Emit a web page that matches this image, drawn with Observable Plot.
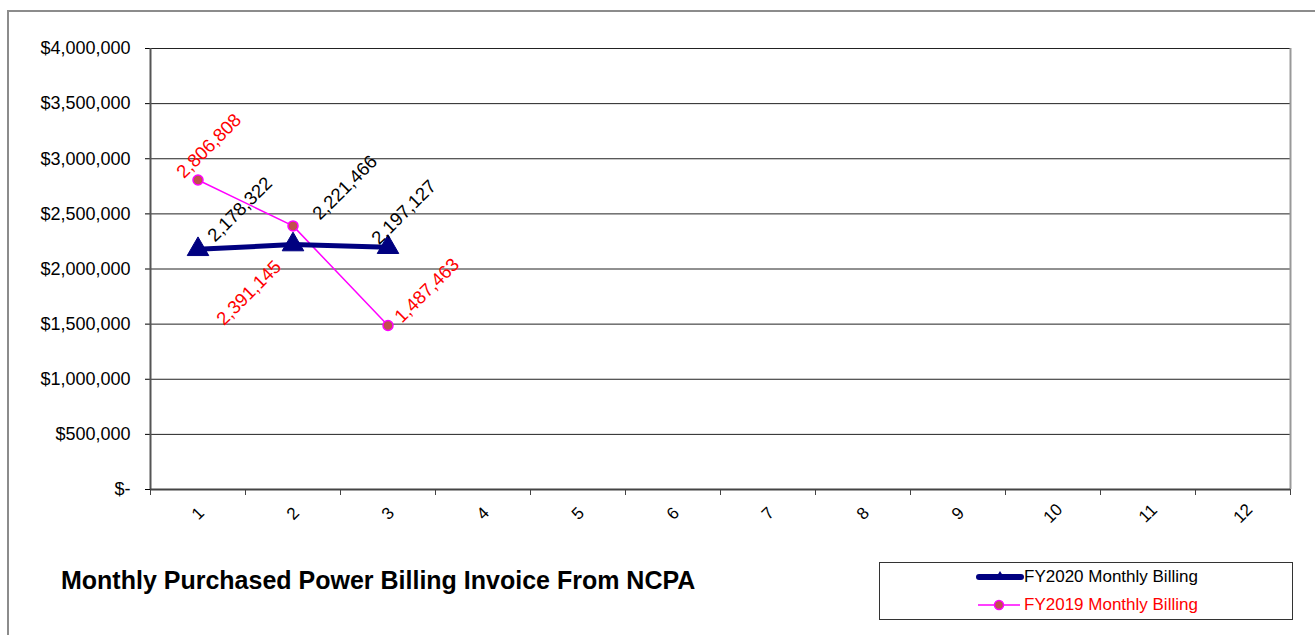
<!DOCTYPE html>
<html>
<head>
<meta charset="utf-8">
<script src="https://cdn.jsdelivr.net/npm/d3@7"></script>
<script src="https://cdn.jsdelivr.net/npm/@observablehq/plot@0.6"></script>
<style>
  html, body { margin: 0; padding: 0; background: #fff; overflow: hidden; }
  body { font-family: "Liberation Sans", Arial, sans-serif; }
  #page { position: relative; width: 1315px; height: 635px; }
  #frame { position: absolute; left: 7px; top: 10px; width: 1400px; height: 700px;
           border-left: 2px solid #8c8c8c; border-top: 2px solid #8c8c8c; box-sizing: border-box; }
  #chart { position: absolute; left: 0; top: 0; }
  #footer { position: absolute; left: 0; top: 540px; width: 1315px; height: 95px; }
  #title { position: absolute; left: 61px; top: 27px; font-weight: bold; font-size: 25px; line-height: 26px; color: #000; white-space: nowrap; }
  #legend { position: absolute; left: 879px; top: 22px; width: 414px; height: 58px; border: 1px solid #333; box-sizing: border-box; }
  .item { position: absolute; left: 96px; height: 20px; display: flex; align-items: center; font-size: 17px; white-space: nowrap; }
  .item svg { display: block; }
</style>
</head>
<body>
<div id="page">
  <div id="frame"></div>
  <div id="chart"></div>
  <div id="footer">
    <div id="title"></div>
    <div id="legend"></div>
  </div>
</div>
<script>
// Monthly billing values (dollars) by fiscal month
const months = [1, 2, 3, 4, 5, 6, 7, 8, 9, 10, 11, 12];
const fy2020 = [2178322, 2221466, 2197127];
const fy2019 = [2806808, 2391145, 1487463];
const yTicks = [0, 500000, 1000000, 1500000, 2000000, 2500000, 3000000, 3500000, 4000000];
const seriesNames = ["FY2020 Monthly Billing", "FY2019 Monthly Billing"];
const titleText = "Monthly Purchased Power Billing Invoice From NCPA";

const rows2020 = fy2020.map((v, i) => ({month: months[i], value: v}));
const rows2019 = fy2019.map((v, i) => ({month: months[i], value: v}));

// screen-space offsets for the rotated value labels
const off2020 = [[42, -40], [52, -57], [16, -35]];
const off2019 = [[11, -34], [-44, 67], [39, -35]];

const fmt = d3.format(",");
const navy = "#000080", magenta = "#ff00ff", red = "#ff0000", dotFill = "#c0504d";

// category boundaries for the x-axis tick marks
const bounds = months.map(m => m - 0.5).concat([months[months.length - 1] + 0.5]);

const labelMarks = (rows, offs, color) => rows.map((r, i) => Plot.text([r], {
  x: "month", y: "value", text: d => fmt(d.value),
  rotate: -45, dx: offs[i][0], dy: offs[i][1],
  fill: color, fontSize: 18.5, textAnchor: "middle"
}));

const chart = Plot.plot({
  width: 1315,
  height: 540,
  marginLeft: 150,
  marginRight: 25,
  marginTop: 48,
  marginBottom: 51,
  style: {fontFamily: "'Liberation Sans', Arial, sans-serif", fontSize: "18px", color: "#000", background: "transparent", overflow: "visible"},
  x: {type: "linear", domain: [0.5, 12.5], axis: null},
  y: {domain: [0, 4000000], ticks: yTicks, tickSize: 5, tickPadding: 15, label: null,
      tickFormat: d => d === 0 ? "$-" : "$" + fmt(d)},
  marks: [
    Plot.ruleY(yTicks, {stroke: "#222", strokeWidth: 1}),
    Plot.ruleX([12.5], {stroke: "#999", strokeWidth: 2}),
    Plot.ruleX([0.5], {stroke: "#555", strokeWidth: 2}),
    Plot.ruleY([0], {stroke: "#444", strokeWidth: 2}),
    Plot.ruleX(bounds, {y1: 0, y2: 0, insetBottom: -6, stroke: "#444", strokeWidth: 1}),
    Plot.text(months, {x: d => d, y: 0, dy: 24, text: d => String(d), rotate: -45, fontSize: 17, fill: "#000"}),
    Plot.line(rows2019, {x: "month", y: "value", stroke: magenta, strokeWidth: 1.5}),
    Plot.line(rows2020, {x: "month", y: "value", stroke: navy, strokeWidth: 5}),
    Plot.dot(rows2020, {x: "month", y: "value", symbol: "triangle", r: 8, fill: navy, stroke: navy, strokeWidth: 1}),
    Plot.dot(rows2019, {x: "month", y: "value", r: 5, fill: dotFill, stroke: magenta, strokeWidth: 1.5}),
    ...labelMarks(rows2020, off2020, "#000"),
    ...labelMarks(rows2019, off2019, red)
  ]
});
document.getElementById("chart").appendChild(chart);

document.getElementById("title").textContent = titleText;

// legend: line swatch with marker, then the series name
const legend = document.getElementById("legend");
const items = [
  {name: seriesNames[0], color: "#000", top: 4, swatch:
    `<svg width="48" height="20"><line x1="3" y1="10" x2="45" y2="10" stroke="${navy}" stroke-width="6" stroke-linecap="round"/>` +
    `<path d="M24,4 L29,12 L19,12 Z" fill="${navy}"/></svg>`},
  {name: seriesNames[1], color: red, top: 32, swatch:
    `<svg width="48" height="20"><line x1="2" y1="10" x2="44" y2="10" stroke="${magenta}" stroke-width="1.5"/>` +
    `<circle cx="23" cy="10" r="4.5" fill="${dotFill}" stroke="${magenta}" stroke-width="1.5"/></svg>`}
];
for (const it of items) {
  const div = document.createElement("div");
  div.className = "item";
  div.style.top = it.top + "px";
  div.style.color = it.color;
  div.innerHTML = it.swatch + `<span>${it.name}</span>`;
  legend.appendChild(div);
}
</script>
</body>
</html>
